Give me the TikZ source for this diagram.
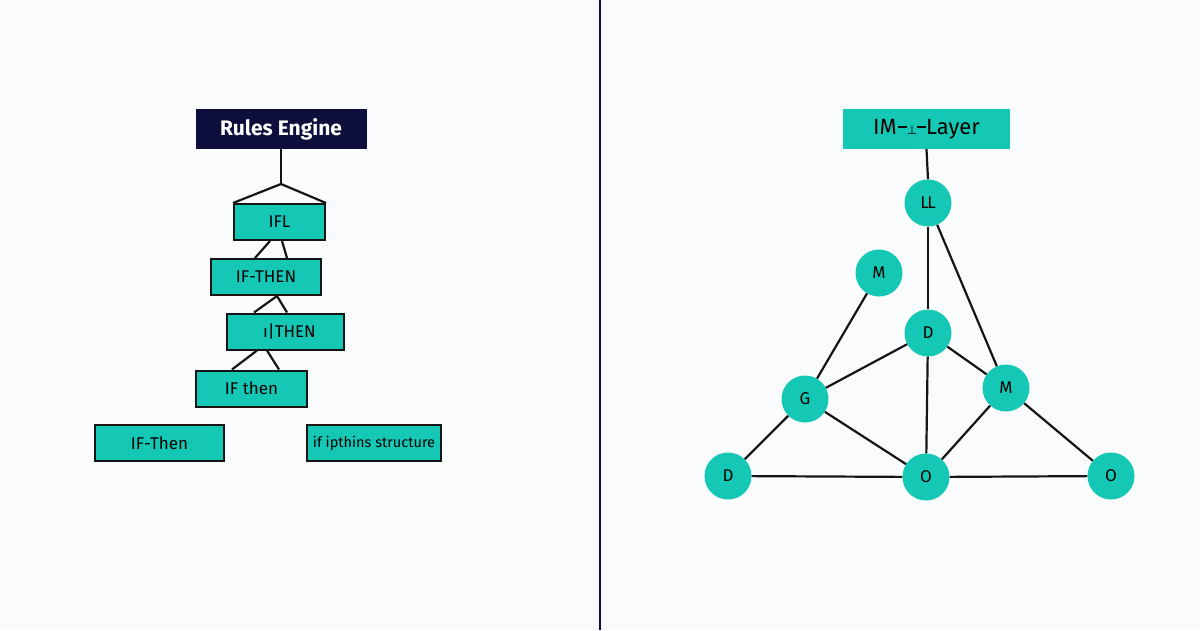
\documentclass[tikz,border=0pt]{standalone}
\usepackage{fontspec}
\setmainfont{Fira Sans}
\newfontfamily\symfont{DejaVu Sans}
\usetikzlibrary{calc}
\definecolor{tealA}{HTML}{14C8B5}
\definecolor{navyA}{HTML}{0E0E3C}
\definecolor{bgA}{HTML}{FAFBFC}
\definecolor{lineA}{HTML}{151515}
\begin{document}
\begin{tikzpicture}[x=1pt,y=-1pt,
  rbox/.style={draw=lineA, line width=2pt, fill=tealA, inner sep=0pt, minimum height=36pt, font=\fontsize{17}{20}\selectfont},
  cnode/.style={circle, fill=tealA, minimum size=47pt, inner sep=0pt, font=\fontsize{17}{20}\selectfont},
  conn/.style={line width=2.2pt, draw=lineA}]
\fill[bgA] (0,0) rectangle (1200,630);
\useasboundingbox (0,0) rectangle (1200,630);
% divider
\draw[navyA, line width=2pt] (600,0) -- (600,630);
% left tree
\node[fill=navyA, text=white, minimum width=171pt, minimum height=40pt, inner sep=0pt, font=\bfseries\fontsize{21}{24}\selectfont] (re) at (281,129) {Rules Engine};
\node[rbox, minimum width=91pt] (ifl) at (279.5,222) {IFL};
\node[rbox, minimum width=110pt] (ift) at (266,277) {IF-THEN};
\node[rbox, minimum width=117pt] (ith) at (285.5,331.5) {\hspace{8pt}ı|THEN};
\node[rbox, minimum width=111pt] (ifth) at (251.5,388.5) {IF then};
\node[rbox, minimum width=129pt] (ifT) at (159.5,443) {IF-Then};
\node[rbox, minimum width=134pt, font=\fontsize{14.5}{17}\selectfont] (ips) at (374,443) {if ipthins structure};
\coordinate (apex) at (281,184);
\draw[conn] (re.south) -- (apex);
\draw[conn] (apex) -- (ifl.north west);
\draw[conn] (apex) -- (ifl.north east);
\draw[conn] ([xshift=-9.5pt]ifl.south) -- ([xshift=-11pt]ift.north);
\draw[conn] ([xshift=2.5pt]ifl.south) -- ([xshift=21pt]ift.north);
\draw[conn] ([xshift=11pt]ift.south) -- ([xshift=-31.5pt]ith.north);
\draw[conn] ([xshift=11pt]ift.south) -- ([xshift=1.5pt]ith.north);
\draw[conn] ([xshift=-28.5pt]ith.south) -- ([xshift=-19.5pt]ifth.north);
\draw[conn] ([xshift=-18.5pt]ith.south) -- ([xshift=27.5pt]ifth.north);
% right graph
\node[fill=tealA, minimum width=167pt, minimum height=40pt, inner sep=0pt, font=\fontsize{22}{24}\selectfont] (iml) at (926.5,129) {IM\kern1pt\raisebox{6pt}{\rule{9pt}{1.8pt}}{\symfont\fontsize{12}{12}\selectfont ⊥}\raisebox{6pt}{\rule{9pt}{1.8pt}}Layer};
\node[cnode] (ll) at (928,203) {L\kern-1.5pt L};
\node[cnode] (m1) at (879,273) {M};
\node[cnode] (d1) at (928,333) {D};
\node[cnode] (g) at (805,399) {G};
\node[cnode] (m2) at (1006,388) {M};
\node[cnode] (d2) at (728,476) {D};
\node[cnode] (o1) at (926,477) {O};
\node[cnode] (o2) at (1111,476) {O};
\draw[conn] (iml.south) -- (ll.north);
\draw[conn] (ll) -- (d1);
\draw[conn] (ll) -- (m2);
\draw[conn] (m1) -- (g);
\draw[conn] (d1) -- (g);
\draw[conn] (d1) -- (m2);
\draw[conn] (d1) -- (o1);
\draw[conn] (g) -- (d2);
\draw[conn] (g) -- (o1);
\draw[conn] (m2) -- (o1);
\draw[conn] (m2) -- (o2);
\draw[conn] (d2) -- (o1);
\draw[conn] (o1) -- (o2);
\end{tikzpicture}
\end{document}
